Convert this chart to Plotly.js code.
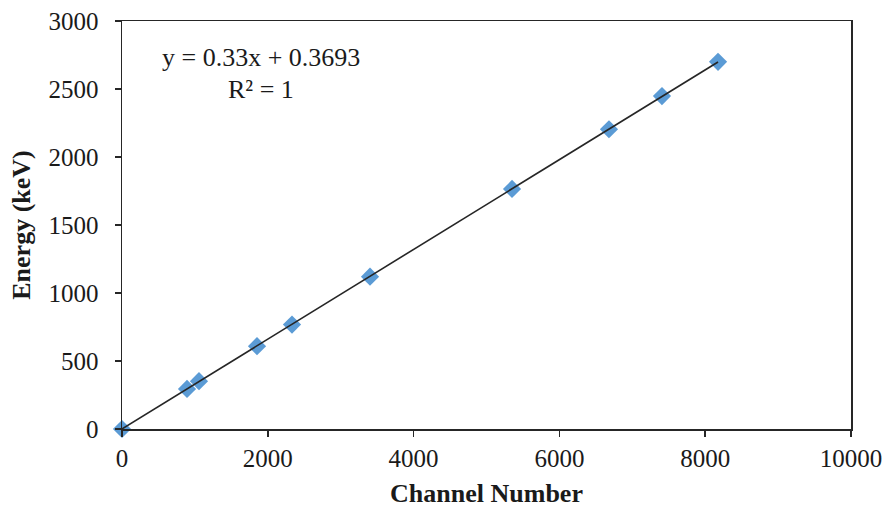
<!DOCTYPE html>
<html>
<head>
<meta charset="utf-8">
<script src="https://cdn.plot.ly/plotly-3.0.1.min.js"></script>
<style>html,body{margin:0;padding:0;background:#fff;}#chart{width:887px;height:508px;}</style>
</head>
<body>
<div id="chart"></div>
<script>
// Data
const channel = [0, 892, 1056, 1852, 2332, 3402, 5350, 6680, 7407, 8176];
const energy  = [0, 295, 352, 609, 768, 1120, 1765, 2204, 2448, 2700];
const fitSlope = 0.33;
const fitIntercept = 0.3693;
const eqText = "y = 0.33x + 0.3693";
const r2Text = "R² = 1";
const xTicks = [0, 2000, 4000, 6000, 8000, 10000];
const yTicks = [0, 500, 1000, 1500, 2000, 2500, 3000];

const xMin = Math.min(...channel), xMax = Math.max(...channel);
const fitX = [xMin, xMax];
const fitY = fitX.map(v => fitSlope * v + fitIntercept);

const font = "Liberation Serif, Times New Roman, serif";
const axisColor = "#262626";
const textColor = "#1a1a1a";

const traces = [
  {
    x: channel, y: energy, type: "scatter", mode: "markers",
    marker: {symbol: "diamond", size: 14, color: "#5B9BD5"},
    cliponaxis: false,
    hoverinfo: "x+y", showlegend: false
  },
  {
    x: fitX, y: fitY, type: "scatter", mode: "lines",
    line: {color: "#262626", width: 1.6},
    cliponaxis: false,
    hoverinfo: "skip", showlegend: false
  }
];

const layout = {
  width: 887, height: 508,
  margin: {l: 122, r: 36, t: 21, b: 79},
  paper_bgcolor: "#ffffff", plot_bgcolor: "#ffffff",
  font: {family: font, size: 26, color: textColor},
  showlegend: false,
  xaxis: {
    range: [0, 10000], tickvals: xTicks, ticktext: xTicks.map(String),
    showgrid: false, zeroline: false,
    showline: true, linecolor: axisColor, linewidth: 1.5, mirror: true,
    ticks: "outside", ticklen: 6, tickwidth: 1.5, tickcolor: axisColor,
    tickfont: {family: font, size: 25, color: textColor},
    title: {text: "<b>Channel Number</b>", font: {family: font, size: 26, color: textColor}, standoff: 14}
  },
  yaxis: {
    range: [0, 3000], tickvals: yTicks, ticktext: yTicks.map(String),
    showgrid: false, zeroline: false,
    showline: true, linecolor: axisColor, linewidth: 1.5, mirror: true,
    ticks: "outside", ticklen: 6, tickwidth: 1.5, tickcolor: axisColor,
    ticklabelstandoff: 11,
    tickfont: {family: font, size: 25, color: textColor},
    title: {text: "<b>Energy (keV)</b>", font: {family: font, size: 26, color: textColor}, standoff: 10}
  },
  annotations: [
    {x: 1907, y: 2728, xref: "x", yref: "y", text: eqText, showarrow: false,
     xanchor: "center", yanchor: "middle", font: {family: font, size: 26, color: textColor}},
    {x: 1907, y: 2500, xref: "x", yref: "y", text: r2Text, showarrow: false,
     xanchor: "center", yanchor: "middle", font: {family: font, size: 26, color: textColor}}
  ]
};

Plotly.newPlot("chart", traces, layout, {displayModeBar: false, staticPlot: true});
</script>
</body>
</html>
